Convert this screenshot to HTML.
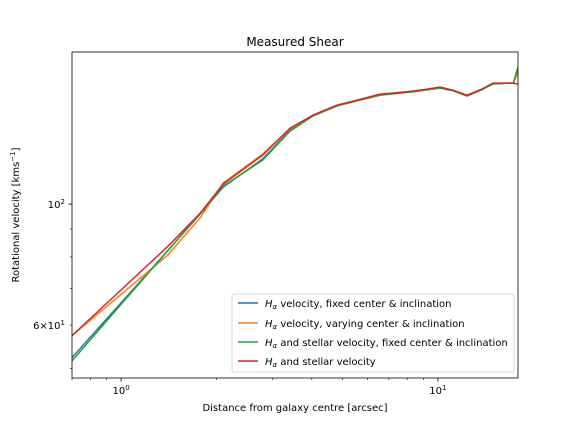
<!DOCTYPE html>
<html><head><meta charset="utf-8"><style>
html,body{margin:0;padding:0;background:#fff}
svg{display:block;font-family:"DejaVu Sans","Liberation Sans",sans-serif}
</style></head><body>
<svg id="chart" width="576" height="432" viewBox="0 0 576 432" xmlns="http://www.w3.org/2000/svg">
<rect width="576" height="432" fill="#fff"/>
<text x="295" y="46" font-size="12" text-anchor="middle">Measured Shear</text>
<g id="marks"></g>
<g id="axes"></g>
<rect x="72" y="52" width="446" height="326" fill="none" stroke="#000" stroke-width="0.8"/>
<text x="295" y="411" font-size="10" text-anchor="middle">Distance from galaxy centre [arcsec]</text>
<text transform="translate(19,215) rotate(-90)" font-size="10" text-anchor="middle">Rotational velocity [kms<tspan dy="-4" font-size="7">−1</tspan><tspan dy="4">]</tspan></text>
<g>
<rect x="232" y="294" width="282" height="78" rx="2" fill="#fff" fill-opacity="0.8" stroke="#ccc" stroke-width="0.8"/>
<line x1="238" y1="303" x2="258" y2="303" stroke="#1f77b4" stroke-width="1.5"/>
<text x="265" y="307" font-size="10"><tspan font-style="italic">H</tspan><tspan font-style="italic" font-size="7" dy="2">α</tspan><tspan dy="-2"> velocity, fixed center &amp; inclination</tspan></text>
<line x1="238" y1="323" x2="258" y2="323" stroke="#ff7f0e" stroke-width="1.5"/>
<text x="265" y="327" font-size="10"><tspan font-style="italic">H</tspan><tspan font-style="italic" font-size="7" dy="2">α</tspan><tspan dy="-2"> velocity, varying center &amp; inclination</tspan></text>
<line x1="238" y1="342" x2="258" y2="342" stroke="#2ca02c" stroke-width="1.5"/>
<text x="265" y="346" font-size="10"><tspan font-style="italic">H</tspan><tspan font-style="italic" font-size="7" dy="2">α</tspan><tspan dy="-2"> and stellar velocity, fixed center &amp; inclination</tspan></text>
<line x1="238" y1="361" x2="258" y2="361" stroke="#d62728" stroke-width="1.5"/>
<text x="265" y="365" font-size="10"><tspan font-style="italic">H</tspan><tspan font-style="italic" font-size="7" dy="2">α</tspan><tspan dy="-2"> and stellar velocity</tspan></text>
</g>
</svg>
<script>
const radii = [0.70,1.40,1.78,2.10,2.80,3.41,4.03,4.80,5.55,6.56,7.21,8.34,9.23,10.15,11.15,12.35,13.76,14.91,16.51,17.3,17.88];
const blueVel   = [52.3,82.0,96.0,107.4,121.0,136.5,145.0,151.5,154.8,158.5,159.4,160.8,162.0,163.2,161.4,158.0,162.2,166.3,166.5,166.5,176.0];
const orangeVel = [57.4,80.5,94.5,109.3,123.5,137.5,145.5,151.8,155.0,159.0,159.7,161.1,162.4,163.8,161.7,158.3,162.4,166.0,166.6,166.6,174.0];
const greenVel  = [51.6,82.0,96.3,107.9,120.4,136.0,145.0,151.3,154.6,158.3,159.2,160.6,161.9,163.2,161.4,157.8,162.0,166.0,166.6,166.6,178.0];
const redVel    = [57.4,83.5,96.3,108.8,122.9,137.7,145.5,151.8,155.0,159.0,159.7,161.1,162.4,163.8,161.7,158.3,162.4,166.6,166.6,166.6,165.9];
const xMajor = [1,10];
const xMajorLabels = ["10","10"];
const xMajorExp = ["0","1"];
const xMinor = [0.7,0.8,0.9,2,3,4,5,6,7,8,9];
const yMajor = [100];
const yMinorVals = [50,60,70,80,90];
const NS="http://www.w3.org/2000/svg";
const X0=72,X1=518,Y0=52,Y1=378;
const xmin=0.70,xmax=17.9,ymin=48,ymax=190;
function xs(v){return X0+(X1-X0)*(Math.log10(v)-Math.log10(xmin))/(Math.log10(xmax)-Math.log10(xmin));}
function ys(v){return Y1-(Y1-Y0)*(Math.log10(v)-Math.log10(ymin))/(Math.log10(ymax)-Math.log10(ymin));}
const marks=document.getElementById('marks'), axes=document.getElementById('axes');
function mk(tag,attrs,parent){const e=document.createElementNS(NS,tag);for(const k in attrs)e.setAttribute(k,attrs[k]);parent.appendChild(e);return e;}
const series=[["blue",blueVel,"#1f77b4"],["orange",orangeVel,"#ff7f0e"],["green",greenVel,"#2ca02c"],["red",redVel,"#d62728"]];
const cp=mk('clipPath',{id:'clip'},marks);mk('rect',{x:X0,y:Y0,width:X1-X0,height:Y1-Y0},cp);
series.forEach(s=>{
  const d=radii.map((r,i)=>(i?'L':'M')+xs(r).toFixed(2)+','+ys(s[1][i]).toFixed(2)).join(' ');
  const p=mk('path',{d:d,fill:'none',stroke:s[2],'stroke-width':1.5,'clip-path':'url(#clip)','stroke-linejoin':'round'},marks);
  
  
});
xMajor.forEach((v,i)=>{
  const x=xs(v);
  const t=mk('line',{x1:x,y1:Y1,x2:x,y2:Y1+3.5,stroke:'#000','stroke-width':0.8},axes);
  
  
  const l=mk('text',{x:x,y:Y1+16,'font-size':10,'text-anchor':'middle'},axes);
  
  
  l.textContent=xMajorLabels[i];
  const e=mk('tspan',{dy:-4,'font-size':7},l);e.textContent=xMajorExp[i];
});
xMinor.forEach(v=>{const x=xs(v);
  const t=mk('line',{x1:x,y1:Y1,x2:x,y2:Y1+2,stroke:'#000','stroke-width':0.6},axes);
  
  
});
yMajor.forEach(v=>{const y=ys(v);
  const t=mk('line',{x1:X0,y1:y,x2:X0-3.5,y2:y,stroke:'#000','stroke-width':0.8},axes);
  
  
  const l=mk('text',{x:X0-7,y:y+4,'font-size':10,'text-anchor':'end'},axes);
  
  
  l.textContent='10';
  const e=mk('tspan',{dy:-4,'font-size':7},l);e.textContent='2';
});
yMinorVals.forEach(v=>{const y=ys(v);
  const t=mk('line',{x1:X0,y1:y,x2:X0-2,y2:y,stroke:'#000','stroke-width':0.6},axes);
  
  
  if(v===60){
    const l=mk('text',{x:X0-7,y:y+4,'font-size':10,'text-anchor':'end'},axes);
    
    
    l.textContent='6×10';
    const e=mk('tspan',{dy:-4,'font-size':7},l);e.textContent='1';
  }
});
</script>
</body></html>
